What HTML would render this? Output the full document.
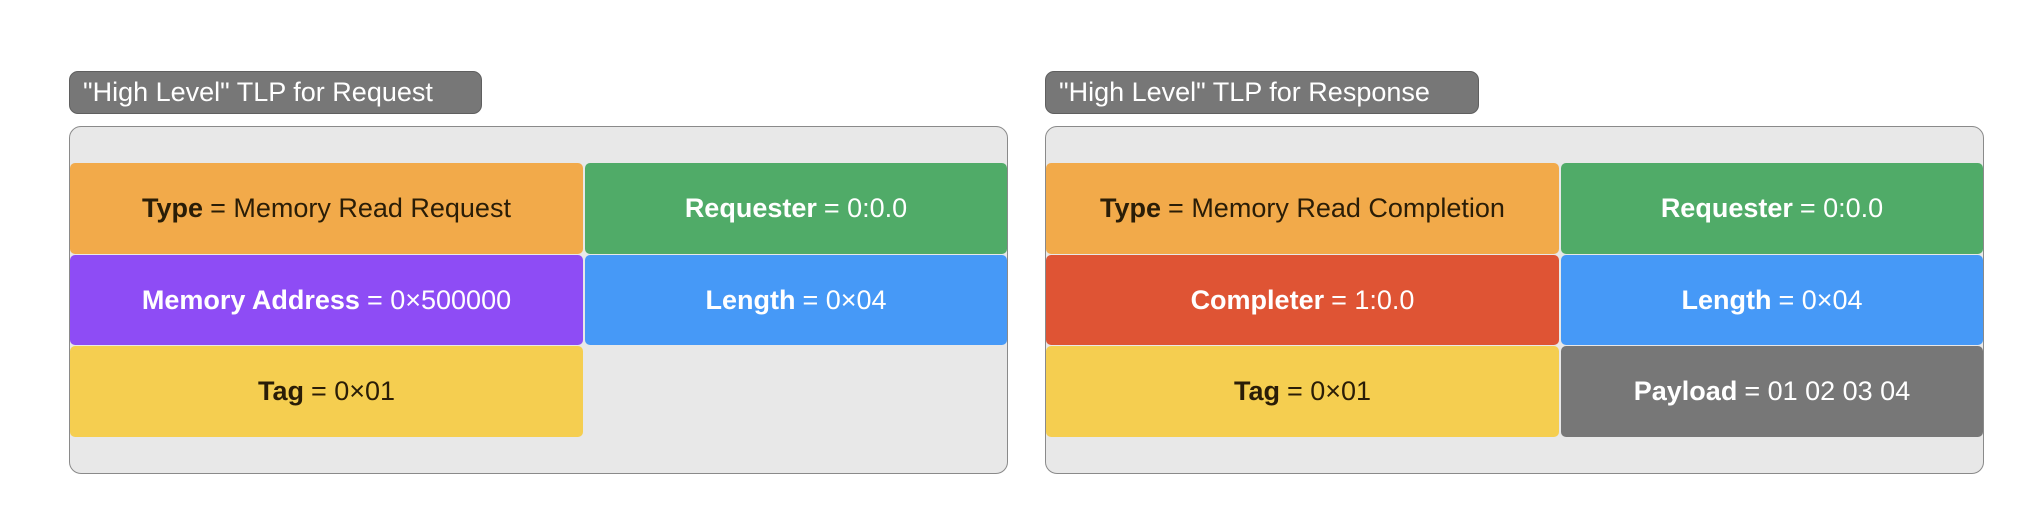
<!DOCTYPE html>
<html><head><meta charset="utf-8"><style>
body{margin:0;width:2032px;height:516px;background:#fff;position:relative;overflow:hidden;font-family:"Liberation Sans",sans-serif;}
.lbl{position:absolute;background:#777;border:1.5px solid #5f5f5f;border-radius:9px;color:#fff;font-size:27px;box-sizing:border-box;display:flex;align-items:center;padding-left:13px;}
.box{position:absolute;background:#e8e8e8;border:1.5px solid #8a8a8a;border-radius:12px;box-sizing:border-box;}
.c{position:absolute;display:flex;align-items:center;justify-content:center;font-size:27px;color:#fff;border-radius:5px;box-sizing:border-box;}
.c b{font-weight:bold;margin-right:7px}
.d{color:#2a1d07}
</style></head><body>
<div class="lbl" style="left:69px;top:71px;width:413px;height:43px">"High Level" TLP for Request</div>
<div class="box" style="left:69px;top:126px;width:939px;height:348px"></div>
<div class="c d" style="left:70px;top:163px;width:513px;height:91px;background:#f2aa4a"><b>Type</b>= Memory Read Request</div>
<div class="c" style="left:585px;top:163px;width:422px;height:91px;background:#50ab68"><b>Requester</b>= 0:0.0</div>
<div class="c" style="left:70px;top:255px;width:513px;height:90px;background:#8e4cf5"><b>Memory Address</b>= 0×500000</div>
<div class="c" style="left:585px;top:255px;width:422px;height:90px;background:#4699f7"><b>Length</b>= 0×04</div>
<div class="c d" style="left:70px;top:346px;width:513px;height:91px;background:#f5ce50"><b>Tag</b>= 0×01</div>

<div class="lbl" style="left:1045px;top:71px;width:434px;height:43px">"High Level" TLP for Response</div>
<div class="box" style="left:1045px;top:126px;width:939px;height:348px"></div>
<div class="c d" style="left:1046px;top:163px;width:513px;height:91px;background:#f2aa4a"><b>Type</b>= Memory Read Completion</div>
<div class="c" style="left:1561px;top:163px;width:422px;height:91px;background:#50ab68"><b>Requester</b>= 0:0.0</div>
<div class="c" style="left:1046px;top:255px;width:513px;height:90px;background:#df5434"><b>Completer</b>= 1:0.0</div>
<div class="c" style="left:1561px;top:255px;width:422px;height:90px;background:#4699f7"><b>Length</b>= 0×04</div>
<div class="c d" style="left:1046px;top:346px;width:513px;height:91px;background:#f5ce50"><b>Tag</b>= 0×01</div>
<div class="c" style="left:1561px;top:346px;width:422px;height:91px;background:#777"><b>Payload</b>= 01 02 03 04</div>
</body></html>
